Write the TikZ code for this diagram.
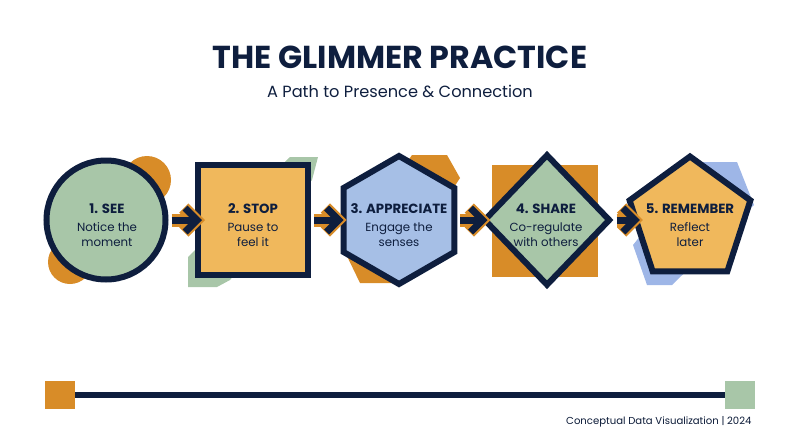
\documentclass[tikz,border=0pt]{standalone}
\usepackage{fontspec}
\setmainfont{Poppins}
\usetikzlibrary{shapes.geometric,arrows.meta}
\definecolor{navy}{RGB}{14,30,62}
\definecolor{sage}{RGB}{168,198,168}
\definecolor{amber}{RGB}{216,140,40}
\definecolor{sand}{RGB}{240,184,92}
\definecolor{sky}{RGB}{166,191,230}
\newcommand{\stagehead}[1]{{\fontsize{13.3}{16}\selectfont\bfseries #1}}
\tikzset{
  stage/.style    = {draw=navy, line width=6pt, inner sep=0pt},
  stagecirc/.style = {stage, circle, fill=sage, minimum size=119pt},
  stagesq/.style   = {stage, rectangle, fill=sand, minimum size=110pt},
  stagehex/.style  = {stage, regular polygon, regular polygon sides=6,
                      shape border rotate=30, fill=sky, minimum size=128pt},
  stagedia/.style  = {stage, diamond, fill=sage, minimum width=127pt, minimum height=132pt},
  stagepent/.style = {stage, regular polygon, regular polygon sides=5,
                      fill=sand, minimum size=127pt},
  % text sits a little below the shape centre
  stagetext/.style = {align=center, inner sep=0pt, text=navy,
                      font=\fontsize{11.8}{15}\selectfont},
  % arrows: amber rim under a navy core
  flowrim/.style  = {draw=amber, line width=13pt, shorten <=3pt,
                     -{Straight Barb[length=12pt, width=24pt]}},
  flowcore/.style = {draw=navy, line width=7pt, shorten <=3pt,
                     -{Straight Barb[length=12pt, width=24pt]}},
  barend/.style   = {minimum width=30pt, minimum height=28pt, inner sep=0pt},
  rail/.style     = {draw=navy, line width=6pt},
}

\begin{document}
\begin{tikzpicture}[x=1pt, y=-1pt]
    \useasboundingbox (0,0) rectangle (800,447);

    \node[font=\fontsize{31.7}{36}\selectfont\bfseries, text=navy, anchor=base] (title) at (400,68) {THE GLIMMER PRACTICE};
    \node[font=\fontsize{16.2}{20}\selectfont, text=navy, anchor=base] (sub) at (400,97) {A Path to Presence \& Connection};

    % backdrop shapes
    \fill[amber] (147pt,-180pt) circle (24pt);
    \fill[amber] (70pt,-262pt) circle (22pt);
    \fill[sage] (290,157) -- (318,157) -- (312,180) -- (230,280) -- (217,287) -- (188,287) -- (188,257) -- cycle;
    \fill[amber] (412,155) -- (447,155) -- (460,178) -- (392,283) -- (360,283) -- (345,252) -- cycle;
    \fill[amber] (492,165) rectangle (598,277);
    \fill[sky!95!blue] (700,162) -- (737,162) -- (754,205) -- (672,285) -- (647,285) -- (633,245) -- cycle;

    \node[stagecirc] (s1) at (106,220) {};
    \node[stagesq]   (s2) at (253,220) {};
    \node[stagehex]  (s3) at (399,220) {};
    \node[stagedia]  (s4) at (547,220) {};
    \node[stagepent] (s5) at (690,220) {};

    \node[stagetext] (t1) at (107,225) {\stagehead{1. SEE}\\[3pt]Notice the\\moment};
    \node[stagetext] (t2) at (253,225) {\stagehead{2. STOP}\\[3pt]Pause to\\feel it};
    \node[stagetext] (t3) at (399,225) {\stagehead{3. APPRECIATE}\\[3pt]Engage the\\senses};
    \node[stagetext] (t4) at (546,225) {\stagehead{4. SHARE}\\[3pt]Co-regulate\\with others};
    \node[stagetext] (t5) at (690,225) {\stagehead{5. REMEMBER}\\[3pt]Reflect\\later};

    \foreach \a/\b/\o in {s1/s2/10, s2/s3/6, s3/s4/10, s4/s5/10} {
      \draw[flowrim, shorten >=-\o pt] (\a) -- (\b);
      \draw[flowcore, shorten >=-\o pt+3pt] (\a) -- (\b);
    }

    \node[barend, fill=amber] (b1) at (60,395) {};
    \node[barend, fill=sage]  (b2) at (740,395) {};
    \draw[rail] (b1) -- (b2);

    \node[font=\fontsize{10.1}{12}\selectfont, text=navy!90!black, anchor=base east] (foot) at (755,424) {Conceptual Data Visualization | 2024};
  \end{tikzpicture}
\end{document}
